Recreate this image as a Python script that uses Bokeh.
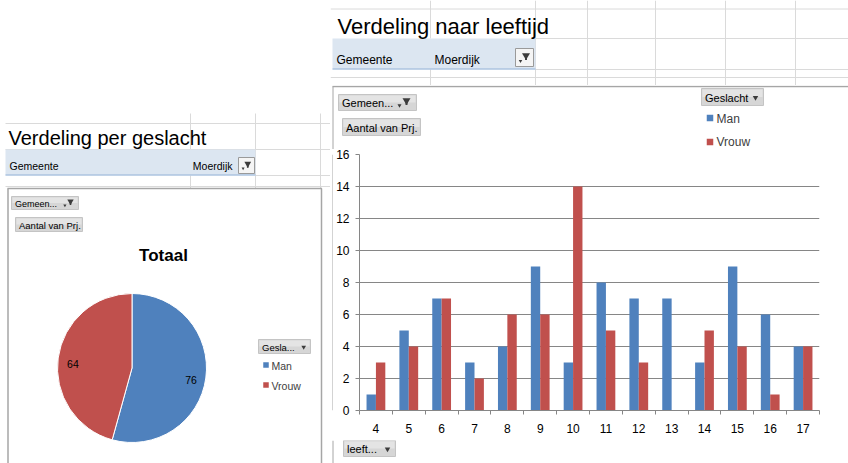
import math
from bokeh.plotting import figure
from bokeh.layouts import row, column
from bokeh.models import Range1d, FixedTicker, ColumnDataSource
from bokeh.transform import dodge
from bokeh.core.properties import value
from bokeh.embed import file_html
from bokeh.resources import INLINE

# ---------------- data ----------------
ages = [4, 5, 6, 7, 8, 9, 10, 11, 12, 13, 14, 15, 16, 17]
man = [1, 5, 7, 3, 4, 9, 3, 8, 7, 7, 3, 9, 6, 4]
vrouw = [3, 4, 7, 2, 6, 6, 14, 5, 3, 0, 5, 4, 1, 4]
genders = ["Man", "Vrouw"]
pie_values = [76, 64]
y_ticks = [0, 2, 4, 6, 8, 10, 12, 14, 16]
colors = ["#4F81BD", "#C0504D"]
title_left = "Verdeling per geslacht"
title_right = "Verdeling naar leeftijd"
pie_title = "Totaal"

SHEET_FONT = "Liberation Sans"
CHART_FONT = "Liberation Sans"
GRID = "#dadada"
BAND = "#dce6f1"
BAND_LINE = "#95b3d7"
BOX = "#a6a6a6"
AXIS = "#868686"


def pixfig(x0, x1, y0, y1):
    return figure(width=x1 - x0, height=y1 - y0,
                  x_range=Range1d(x0, x1), y_range=Range1d(y1, y0),
                  x_axis_type=None, y_axis_type=None,
                  output_backend="svg", toolbar_location=None,
                  min_border=0, outline_line_color=None,
                  background_fill_color="white", border_fill_color="white")


def text(p, x, y, s, size, font=CHART_FONT, align="left", style="normal",
         baseline="middle", color="#000000"):
    p.text(x=[x], y=[y], text=[s], text_font=value(font), text_font_size=value(size),
           text_font_style=style, text_align=align, text_baseline=baseline,
           text_color=color)


def lines(p, xs, ys, color, width=1.0):
    p.multi_line(xs=xs, ys=ys, line_color=color, line_width=width)


def funnel(p, x, y, s=1.0):
    p.scatter(x=[x], y=[y], marker="inverted_triangle", size=8 * s,
              fill_color="#3c3c3c", line_color=None)
    p.segment(x0=[x], y0=[y], x1=[x], y1=[y + 4.5 * s], line_color="#3c3c3c",
              line_width=2 * s)


def arrow(p, x, y, s=1.0):
    p.scatter(x=[x], y=[y], marker="inverted_triangle", size=5 * s,
              fill_color="#3c3c3c", line_color=None)


def button(p, x0, y0, x1, y1, label, size, kind=None, s=1.0):
    p.quad(left=[x0], right=[x1], top=[y0], bottom=[y1],
           fill_color="#d6d6d6", line_color="#c4c4c4", line_width=1)
    p.quad(left=[x0 + 1], right=[x1 - 1], top=[y0 + 1], bottom=[(y0 + y1) / 2],
           fill_color="#e4e4e4", line_color=None)
    text(p, x0 + 3.5, (y0 + y1) / 2 + 0.5, label, size)
    if kind == "filter":
        arrow(p, x1 - 17 * s, (y0 + y1) / 2 + 3 * s, 0.8 * s)
        funnel(p, x1 - 10 * s, (y0 + y1) / 2 - 2 * s, s)
    elif kind == "drop":
        arrow(p, x1 - 8 * s, (y0 + y1) / 2 + 0.5, 1.1 * s)


def filter_box(p, x0, y0, x1, y1, s=1.0):
    p.quad(left=[x0], right=[x1], top=[y0], bottom=[y1],
           fill_color="#f5f5f5", line_color="#9a9a9a", line_width=1)
    arrow(p, (x0 + x1) / 2 - 4 * s, (y0 + y1) / 2 + 3.5 * s, 0.7 * s)
    funnel(p, (x0 + x1) / 2 + 1.5 * s, (y0 + y1) / 2 - 2 * s, s)


# ---------------- left: pie chart sheet ----------------
L = pixfig(0, 330, 0, 463)
lines(L, [[5, 330], [5, 330], [255, 330], [5, 330]],
      [[123, 123], [149, 149], [175, 175], [186, 186]], GRID)
lines(L, [[190, 190], [190, 190], [255, 255], [320, 320]],
      [[113, 149], [175, 188], [113, 188], [113, 188]], GRID)
L.quad(left=[5], right=[255], top=[149], bottom=[175], fill_color=BAND, line_color=None)
lines(L, [[5, 255]], [[174.5, 174.5]], BAND_LINE)
text(L, 8, 137, title_left, "20px", font=SHEET_FONT)
text(L, 9, 165, "Gemeente", "10.5px", font=SHEET_FONT)
text(L, 232, 165, "Moerdijk", "10.5px", font=SHEET_FONT, align="right")
filter_box(L, 238, 157, 254, 173, 0.85)

lines(L, [[7, 321.5], [7.5, 7.5], [321, 321]], [[188, 188], [188, 463], [188, 463]], BOX, 1.5)
button(L, 11, 196, 78, 209, "Gemeen...", "9px", "filter", 0.8)
button(L, 15, 217, 82, 231, "Aantal van Prj.", "9.5px")
text(L, 163, 255, pie_title, "17px", style="bold", align="center")

cx, cy, r = 131.5, 367.5, 74.5
total = sum(pie_values)
starts, ends, acc = [], [], 0
for v in pie_values:
    starts.append(math.pi / 2 - 2 * math.pi * acc / total)
    acc += v
    ends.append(math.pi / 2 - 2 * math.pi * acc / total)
pie_src = ColumnDataSource(dict(g=genders, v=pie_values, start=starts, end=ends, color=colors))
L.wedge(x=cx, y=cy, radius=r, radius_units="screen", start_angle="start", end_angle="end",
        direction="clock", fill_color="color", line_color="white", line_width=1,
        source=pie_src)
lx = [cx + 0.8 * r * math.cos((s + e) / 2) for s, e in zip(starts, ends)]
ly = [cy - 0.8 * r * math.sin((s + e) / 2) + 4 for s, e in zip(starts, ends)]
L.text(x=lx, y=ly, text=[str(v) for v in pie_values], text_font=value(CHART_FONT),
       text_font_size=value("10.5px"), text_align="center", text_baseline="middle",
       text_color="#000000")

button(L, 258, 339, 310, 353, "Gesla...", "9.5px", "drop", 0.85)
L.scatter(x=[265.5, 265.5], y=[364.5, 384.5], marker="square", size=5.5,
          fill_color=colors, line_color=None)
L.text(x=[271, 271], y=[365, 385], text=genders, text_font=value(CHART_FONT),
       text_font_size=value("10.5px"), text_baseline="middle", text_color="#404040")

# ---------------- right: top sheet part ----------------
RT = pixfig(330, 848, 0, 85)
lines(RT, [[330, 848], [535, 848], [535, 848], [330, 848]],
      [[8.5, 8.5], [38, 38], [69, 69], [77, 77]], GRID)
lines(RT, [[430, 430], [430, 430], [535, 535], [587, 587], [655, 655], [725, 725], [795, 795]],
      [[0, 38], [69, 85], [0, 85], [0, 85], [0, 85], [0, 85], [0, 85]], GRID)
RT.quad(left=[332], right=[535], top=[38], bottom=[69], fill_color=BAND, line_color=None)
lines(RT, [[332, 535]], [[68.5, 68.5]], BAND_LINE)
text(RT, 337, 26, title_right, "22px", font=SHEET_FONT)
text(RT, 336, 59.5, "Gemeente", "12px", font=SHEET_FONT)
text(RT, 434, 59.5, "Moerdijk", "12px", font=SHEET_FONT)
filter_box(RT, 515, 48, 533, 66, 1.0)

# ---------------- right: chart header (buttons + legend) ----------------
RM = pixfig(330, 848, 85, 149)
lines(RM, [[332, 848]], [[86, 86]], BOX, 1.5)
lines(RM, [[332.5, 332.5]], [[86, 149]], BOX, 1.0)
button(RM, 338, 94, 416, 110, "Gemeen...", "11px", "filter")
button(RM, 342, 118, 420, 135, "Aantal van Prj.", "11px")
button(RM, 701, 88, 763, 105, "Geslacht", "11px", "drop")
RM.scatter(x=[709.5, 709.5], y=[117.5, 141.5], marker="square", size=6.5,
           fill_color=colors, line_color=None)
RM.text(x=[716, 716], y=[118, 141.5], text=genders, text_font=value(CHART_FONT),
        text_font_size=value("12px"), text_baseline="middle", text_color="#404040")

# ---------------- right: bar chart ----------------
RE = pixfig(330, 333, 149, 440)
lines(RE, [[332.5, 332.5]], [[149, 440]], BOX, 1.0)

src = ColumnDataSource(dict(age=ages, man=man, vrouw=vrouw))
B = figure(width=515, height=291, x_range=Range1d(3.5, 17.5), y_range=Range1d(0, 16),
           output_backend="svg", toolbar_location=None,
           min_border_left=26, min_border_right=29, min_border_top=5, min_border_bottom=30,
           outline_line_color=None, background_fill_color="white",
           border_fill_color="white")
bar_w = 1 / 3.5
B.vbar(x=dodge("age", -bar_w / 2, range=B.x_range), top="man", width=bar_w, source=src,
       fill_color=colors[0], line_color=None, legend_label=genders[0])
B.vbar(x=dodge("age", bar_w / 2, range=B.x_range), top="vrouw", width=bar_w, source=src,
       fill_color=colors[1], line_color=None, legend_label=genders[1])
B.legend.visible = False

B.yaxis.ticker = FixedTicker(ticks=y_ticks)
B.xaxis.ticker = FixedTicker(ticks=ages, minor_ticks=[a - 0.5 for a in ages] + [ages[-1] + 0.5])
for ax in (B.xaxis, B.yaxis):
    ax.axis_line_color = AXIS
    ax.major_tick_line_color = AXIS
    ax.minor_tick_line_color = AXIS
    ax.major_label_text_font = CHART_FONT
    ax.major_label_text_font_size = "12px"
    ax.major_label_text_color = "#000000"
    ax.major_tick_in = 0
    ax.minor_tick_in = 0
B.yaxis.major_tick_out = 4
B.yaxis.minor_tick_out = 0
B.yaxis.major_label_standoff = 6
B.xaxis.major_tick_out = 0
B.xaxis.minor_tick_out = 4
B.xaxis.major_label_standoff = 9
B.xgrid.visible = False
B.ygrid.grid_line_color = AXIS
B.ygrid.grid_line_width = 1

RB = pixfig(330, 848, 440, 463)
lines(RB, [[332.5, 332.5]], [[440, 463]], BOX, 1.0)
button(RB, 343, 440, 395, 456, "leeft...", "11px", "drop")

layout = row(L, column(RT, RM, row(RE, B), RB))
open("out.html", "w").write(file_html(layout, INLINE))
